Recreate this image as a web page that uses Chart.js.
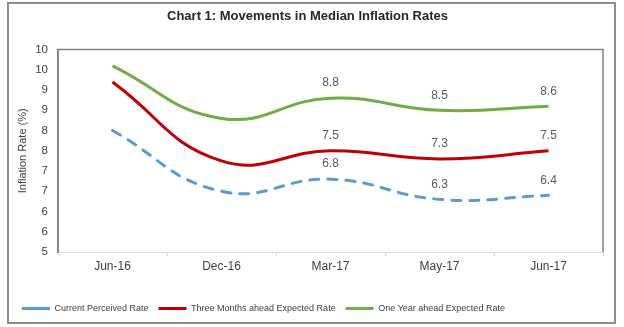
<!DOCTYPE html>
<html>
<head>
<meta charset="utf-8">
<script src="https://cdn.jsdelivr.net/npm/chart.js@4/dist/chart.umd.min.js"></script>
<style>
  body { margin: 0; background: #fff; }
  #wrap { position: relative; width: 624px; height: 327px; }
  #frame { position: absolute; left: 7px; top: 2px; width: 605px; height: 318px; border: 2px solid #8c8c8c; }
  canvas { position: absolute; left: 0; top: 0; }
</style>
</head>
<body>
<div id="wrap">
  <div id="frame"></div>
  <canvas id="chart" width="624" height="327"></canvas>
</div>
<script>
// categories
const months = ['Jun-16', 'Dec-16', 'Mar-17', 'May-17', 'Jun-17'];
// series
const currentPerceived = [8.0, 6.5, 6.8, 6.3, 6.4];
const threeMonthsAhead = [9.2, 7.25, 7.5, 7.3, 7.5];
const oneYearAhead = [9.6, 8.3, 8.8, 8.5, 8.6];
// which points carry a value label
const labelIdx = [2, 3, 4];
// y axis
const yMin = 5, yMax = 10, yStep = 0.5;

const fontFam = '"Liberation Sans", Arial, sans-serif';

// value labels above the points + top/right border of plot area
const extras = {
  id: 'extras',
  afterDatasetsDraw(chart) {
    const ctx = chart.ctx;
    const a = chart.chartArea;
    ctx.save();
    ctx.strokeStyle = '#808080';
    ctx.lineWidth = 1.5;
    ctx.beginPath();
    ctx.moveTo(a.left, a.bottom);
    ctx.lineTo(a.left, a.top);
    ctx.lineTo(a.right, a.top);
    ctx.lineTo(a.right, a.bottom);
    ctx.stroke();

    ctx.fillStyle = '#595959';
    ctx.font = '12px ' + fontFam;
    ctx.textAlign = 'center';
    ctx.textBaseline = 'middle';
    chart.data.datasets.forEach((ds, di) => {
      const meta = chart.getDatasetMeta(di);
      labelIdx.forEach(i => {
        const pt = meta.data[i];
        ctx.fillText(ds.data[i].toFixed(1), pt.x, pt.y - 15);
      });
    });
    ctx.restore();
  }
};

new Chart(document.getElementById('chart'), {
  type: 'line',
  data: {
    labels: months,
    datasets: [
      {
        label: 'Current Perceived Rate',
        data: currentPerceived,
        borderColor: '#5b9bd5',
        backgroundColor: '#5b9bd5',
        borderWidth: 3,
        borderDash: [9, 9],
        borderCapStyle: 'round',
        pointRadius: 0,
        tension: 0.45
      },
      {
        label: 'Three Months ahead Expected Rate',
        data: threeMonthsAhead,
        borderColor: '#c00000',
        backgroundColor: '#c00000',
        borderWidth: 3,
        pointRadius: 0,
        tension: 0.45
      },
      {
        label: 'One Year ahead Expected Rate',
        data: oneYearAhead,
        borderColor: '#70ad47',
        backgroundColor: '#70ad47',
        borderWidth: 3,
        pointRadius: 0,
        tension: 0.45
      }
    ]
  },
  options: {
    responsive: false,
    animation: false,
    layout: { padding: { top: 0, left: 12, right: 21, bottom: 4 } },
    plugins: {
      title: {
        display: true,
        text: 'Chart 1: Movements in Median Inflation Rates',
        color: '#262626',
        font: { family: fontFam, size: 13, weight: 'bold' },
        padding: { top: 9, bottom: 25 }
      },
      legend: {
        position: 'bottom',
        align: 'start',
        labels: {
          usePointStyle: true,
          pointStyle: 'line',
          pointStyleWidth: 28,
          boxWidth: 28,
          padding: 10,
          color: '#404040',
          font: { family: fontFam, size: 9 }
        }
      },
      tooltip: { enabled: false }
    },
    scales: {
      x: {
        offset: true,
        grid: { offset: true, drawOnChartArea: false, drawTicks: true, tickLength: 4, color: '#d9d9d9' },
        border: { color: '#d9d9d9' },
        ticks: { color: '#404040', padding: 3, font: { family: fontFam, size: 12 } },
        afterFit(s) { s.height = 42; }
      },
      y: {
        min: yMin,
        max: yMax,
        grid: { display: false, drawTicks: false },
        border: { color: '#808080', width: 1.5 },
        ticks: {
          stepSize: yStep,
          padding: 10,
          color: '#404040',
          font: { family: fontFam, size: 11.5 },
          callback: v => Math.round(v)
        },
        title: {
          display: true,
          text: 'Inflation Rate (%)',
          color: '#404040',
          font: { family: fontFam, size: 11 },
          padding: { top: 4, bottom: 4 }
        },
        afterFit(s) { s.width = 46; }
      }
    }
  },
  plugins: [extras]
});
</script>
</body>
</html>
